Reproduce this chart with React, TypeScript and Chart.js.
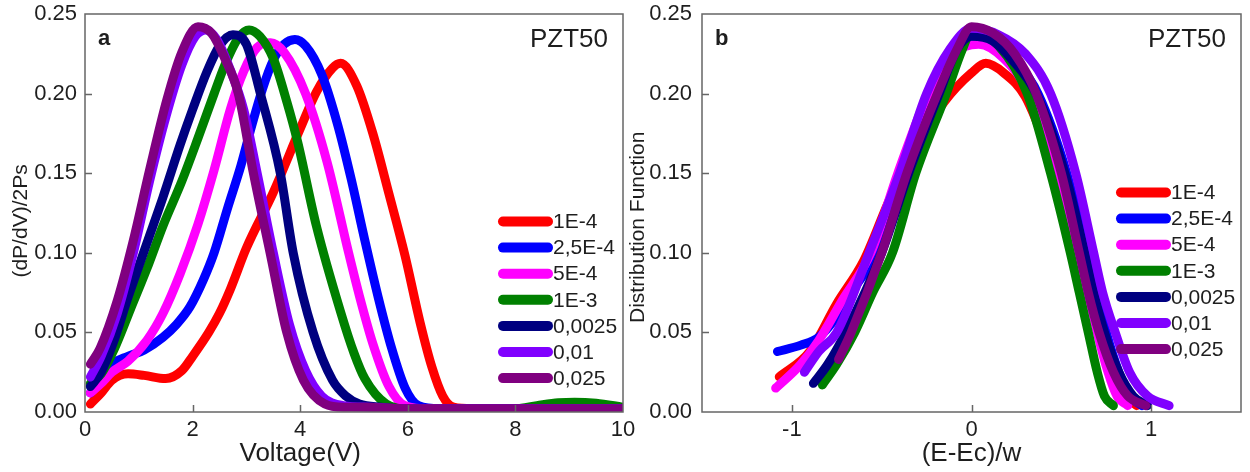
import { useEffect, useRef } from "react";
import { Chart, registerables } from "chart.js";

Chart.register(...registerables);

const FONT = "'Liberation Sans', Arial, sans-serif";
const TEXT = "#1e1e1e";
const AXIS = "#666666";

const seriesLabels = ["1E-4", "2,5E-4", "5E-4", "1E-3", "0,0025", "0,01", "0,025"];
const seriesColors = ["#ff0000", "#0000ff", "#ff00ff", "#008000", "#000080", "#8000ff", "#800080"];

// ---------- Panel a : (dP/dV)/2Ps vs Voltage ----------
const aXTicks = [0, 2, 4, 6, 8, 10];
const aRedV = [0.1, 0.3, 0.5, 0.8, 1.1, 1.5, 1.8, 2.0, 2.3, 2.5, 2.7, 3.0, 3.5, 4.0, 4.3, 4.6, 4.75, 5.05, 5.35, 5.65, 5.95, 6.23, 6.45, 6.65, 6.85, 7.2, 10];
const aRedY = [0.005, 0.012, 0.02, 0.024, 0.023, 0.021, 0.026, 0.035, 0.05, 0.062, 0.077, 0.103, 0.138, 0.178, 0.201, 0.216, 0.219, 0.205, 0.175, 0.137, 0.098, 0.056, 0.028, 0.01, 0.003, 0.002, 0.002];

const aBlueV = [0.1, 0.3, 0.5, 0.8, 1.1, 1.45, 1.7, 1.95, 2.2, 2.4, 2.65, 2.9, 3.1, 3.3, 3.5, 3.7, 3.9, 4.1, 4.4, 4.7, 4.95, 5.2, 5.45, 5.7, 5.95, 6.2, 6.6, 10];
const aBlueY = [0.012, 0.022, 0.03, 0.035, 0.039, 0.047, 0.055, 0.066, 0.083, 0.1, 0.128, 0.155, 0.18, 0.203, 0.221, 0.231, 0.234, 0.23, 0.212, 0.18, 0.146, 0.108, 0.072, 0.04, 0.015, 0.004, 0.002, 0.002];

const aMagV = [0.1, 0.3, 0.5, 0.8, 1.15, 1.45, 1.77, 2.1, 2.4, 2.7, 2.95, 3.2, 3.45, 3.7, 4.1, 4.5, 4.9, 5.1, 5.35, 5.65, 5.95, 6.4, 10];
const aMagY = [0.012, 0.018, 0.025, 0.032, 0.045, 0.062, 0.087, 0.118, 0.152, 0.19, 0.214, 0.229, 0.232, 0.226, 0.2, 0.157, 0.1, 0.073, 0.043, 0.016, 0.004, 0.002, 0.002];

const aGreenV = [0.1, 0.3, 0.55, 0.85, 1.15, 1.45, 1.8, 2.1, 2.4, 2.6, 2.85, 3.05, 3.25, 3.5, 3.75, 3.95, 4.3, 4.75, 5.0, 5.2, 5.6, 6.0, 8.0, 8.4, 8.8, 9.1, 9.5, 10];
const aGreenY = [0.018, 0.024, 0.04, 0.065, 0.09, 0.117, 0.145, 0.172, 0.2, 0.218, 0.235, 0.24, 0.236, 0.222, 0.195, 0.17, 0.117, 0.063, 0.037, 0.021, 0.005, 0.002, 0.002, 0.004, 0.0058, 0.0062, 0.0055, 0.003];

const aNavyV = [0.1, 0.3, 0.52, 0.8, 1.15, 1.45, 1.77, 2.0, 2.27, 2.5, 2.75, 3.0, 3.26, 3.63, 3.87, 4.24, 4.6, 4.85, 5.1, 5.5, 6, 10];
const aNavyY = [0.016, 0.025, 0.043, 0.072, 0.106, 0.135, 0.168, 0.19, 0.214, 0.23, 0.237, 0.231, 0.2, 0.15, 0.1, 0.05, 0.02, 0.01, 0.005, 0.003, 0.002, 0.002];

const aVioletV = [0.1, 0.3, 0.6, 0.9, 1.2, 1.5, 1.8, 2.05, 2.25, 2.45, 2.7, 2.95, 3.2, 3.5, 3.8, 4.1, 4.4, 4.8, 5.3, 6, 10];
const aVioletY = [0.022, 0.035, 0.062, 0.1, 0.145, 0.185, 0.218, 0.236, 0.24, 0.234, 0.215, 0.19, 0.15, 0.1, 0.055, 0.026, 0.01, 0.004, 0.003, 0.002, 0.002];

const aPurpleV = [0.1, 0.28, 0.6, 0.9, 1.2, 1.52, 1.8, 2.1, 2.35, 2.6, 2.85, 3.13, 3.44, 3.75, 4.06, 4.46, 4.8, 5.2, 6, 10];
const aPurpleY = [0.03, 0.04, 0.07, 0.108, 0.152, 0.196, 0.226, 0.242, 0.238, 0.222, 0.2, 0.15, 0.1, 0.05, 0.02, 0.005, 0.003, 0.003, 0.002, 0.002];

// ---------- Panel b : Distribution Function vs (E-Ec)/w ----------
const bXTicks = [-1, 0, 1];
const bRedX = [-1.07, -0.9, -0.75, -0.6, -0.45, -0.3, -0.15, 0, 0.08, 0.18, 0.3, 0.47, 0.62, 0.74, 0.8, 0.86, 0.92];
const bRedY = [0.022, 0.038, 0.068, 0.095, 0.135, 0.168, 0.195, 0.213, 0.219, 0.213, 0.198, 0.15, 0.1, 0.05, 0.025, 0.01, 0.004];

const bBlueX = [-1.08, -0.95, -0.85, -0.75, -0.65, -0.53, -0.38, -0.22, -0.1, 0, 0.12, 0.25, 0.37, 0.53, 0.64, 0.75, 0.82, 0.88, 0.95];
const bBlueY = [0.038, 0.042, 0.047, 0.06, 0.078, 0.1, 0.15, 0.2, 0.225, 0.235, 0.232, 0.22, 0.2, 0.15, 0.1, 0.05, 0.025, 0.01, 0.004];

const bMagX = [-1.09, -0.95, -0.85, -0.72, -0.56, -0.41, -0.24, -0.1, 0.04, 0.18, 0.32, 0.47, 0.6, 0.7, 0.76, 0.81, 0.87];
const bMagY = [0.015, 0.03, 0.045, 0.07, 0.1, 0.15, 0.2, 0.225, 0.231, 0.222, 0.2, 0.15, 0.1, 0.05, 0.025, 0.01, 0.004];

const bGreenX = [-0.83, -0.75, -0.65, -0.55, -0.44, -0.31, -0.14, -0.05, 0.0, 0.15, 0.31, 0.44, 0.55, 0.6, 0.65, 0.7, 0.74, 0.79];
const bGreenY = [0.017, 0.03, 0.05, 0.075, 0.1, 0.15, 0.2, 0.228, 0.239, 0.23, 0.2, 0.15, 0.1, 0.075, 0.05, 0.025, 0.01, 0.004];

const bNavyX = [-0.88, -0.8, -0.7, -0.5, -0.35, -0.18, -0.08, 0, 0.12, 0.22, 0.36, 0.52, 0.63, 0.68, 0.74, 0.82, 0.9, 0.98];
const bNavyY = [0.018, 0.03, 0.05, 0.1, 0.15, 0.2, 0.228, 0.236, 0.233, 0.222, 0.2, 0.15, 0.1, 0.075, 0.05, 0.025, 0.01, 0.004];

const bVioletX = [-0.93, -0.85, -0.75, -0.57, -0.4, -0.25, -0.12, 0, 0.15, 0.3, 0.44, 0.58, 0.68, 0.73, 0.8, 0.88, 0.98, 1.1];
const bVioletY = [0.025, 0.038, 0.05, 0.1, 0.15, 0.2, 0.228, 0.241, 0.237, 0.225, 0.2, 0.15, 0.1, 0.075, 0.05, 0.025, 0.01, 0.004];

const bPurpleX = [-0.74, -0.67, -0.5, -0.36, -0.19, -0.08, 0, 0.12, 0.24, 0.36, 0.5, 0.6, 0.65, 0.71, 0.79, 0.87, 0.97];
const bPurpleY = [0.033, 0.05, 0.1, 0.15, 0.2, 0.228, 0.242, 0.238, 0.225, 0.2, 0.15, 0.1, 0.075, 0.05, 0.025, 0.01, 0.004];

const yTicks = [0, 0.05, 0.1, 0.15, 0.2, 0.25];

const panelA: [number[], number[]][] = [
  [aRedV, aRedY], [aBlueV, aBlueY], [aMagV, aMagY], [aGreenV, aGreenY],
  [aNavyV, aNavyY], [aVioletV, aVioletY], [aPurpleV, aPurpleY],
];
const panelB: [number[], number[]][] = [
  [bRedX, bRedY], [bBlueX, bBlueY], [bMagX, bMagY], [bGreenX, bGreenY],
  [bNavyX, bNavyY], [bVioletX, bVioletY], [bPurpleX, bPurpleY],
];

type Decor = {
  panel: string;
  tag: string;
  xTitle: string;
  xTitleAt: number;
  yTitle: string;
  yTitleAt: number;
  yTitleOffset: number;
  legendTop: number;
};

function decorPlugin(d: Decor) {
  return {
    id: "decor",
    afterDatasetsDraw(chart: any) {
      const { ctx, chartArea: ca, scales } = chart;
      ctx.save();
      // inward tick marks
      ctx.strokeStyle = AXIS;
      ctx.lineWidth = 1.5;
      ctx.lineCap = "butt";
      ctx.beginPath();
      scales.x.ticks.forEach((t: any) => {
        const px = Math.round(scales.x.getPixelForValue(t.value)) + 0.5;
        if (px > ca.left + 2 && px < ca.right - 2) {
          ctx.moveTo(px, ca.bottom);
          ctx.lineTo(px, ca.bottom - 7);
        }
      });
      scales.y.ticks.forEach((t: any) => {
        const py = Math.round(scales.y.getPixelForValue(t.value)) + 0.5;
        if (py > ca.top + 2 && py < ca.bottom - 2) {
          ctx.moveTo(ca.left, py);
          ctx.lineTo(ca.left + 7, py);
        }
      });
      ctx.stroke();
      // frame
      ctx.strokeRect(ca.left, ca.top, ca.right - ca.left, ca.bottom - ca.top);
      // legend
      chart.data.datasets.forEach((ds: any, i: number) => {
        const y = ca.top + d.legendTop + i * 26.1;
        ctx.beginPath();
        ctx.lineCap = "round";
        ctx.lineWidth = 10;
        ctx.strokeStyle = ds.borderColor;
        ctx.moveTo(ca.right - 120, y);
        ctx.lineTo(ca.right - 75, y);
        ctx.stroke();
        ctx.fillStyle = TEXT;
        ctx.font = `21px ${FONT}`;
        ctx.textAlign = "left";
        ctx.textBaseline = "middle";
        ctx.fillText(ds.label, ca.right - 70, y + 1);
      });
      // panel letter
      ctx.fillStyle = TEXT;
      ctx.textBaseline = "alphabetic";
      ctx.textAlign = "left";
      ctx.font = `bold 22px ${FONT}`;
      ctx.fillText(d.panel, ca.left + 13, ca.top + 31);
      // tag
      ctx.font = `26px ${FONT}`;
      ctx.textAlign = "right";
      ctx.fillText(d.tag, ca.right - 15, ca.top + 33);
      // x title
      ctx.textAlign = "center";
      ctx.font = `26px ${FONT}`;
      ctx.fillText(d.xTitle, scales.x.getPixelForValue(d.xTitleAt), ca.bottom + 49);
      // y title
      ctx.translate(ca.left - d.yTitleOffset, scales.y.getPixelForValue(d.yTitleAt));
      ctx.rotate(-Math.PI / 2);
      ctx.font = `21px ${FONT}`;
      ctx.textBaseline = "middle";
      ctx.fillText(d.yTitle, 0, 0);
      ctx.restore();
    },
  };
}

function buildConfig(
  panel: [number[], number[]][],
  xMin: number,
  xMax: number,
  xTicks: number[],
  yAxisWidth: number,
  padRight: number,
  yPad: number,
  decor: Decor
): any {
  const n = panel.length;
  return {
    type: "line",
    data: {
      datasets: panel.map(([xs, ys], i) => ({
        label: seriesLabels[i],
        data: xs.map((x, j) => ({ x, y: ys[j] })),
        borderColor: seriesColors[i],
        backgroundColor: seriesColors[i],
        borderWidth: 9,
        borderCapStyle: "round",
        borderJoinStyle: "round",
        pointRadius: 0,
        cubicInterpolationMode: "monotone",
        fill: false,
        order: n - i,
      })),
    },
    options: {
      responsive: false,
      animation: false,
      layout: { padding: { top: 14, right: padRight, bottom: 0, left: 0 } },
      plugins: { legend: { display: false }, tooltip: { enabled: false } },
      scales: {
        x: {
          type: "linear",
          min: xMin,
          max: xMax,
          afterFit: (s: any) => {
            s.height = 60;
            s.paddingLeft = 0;
            s.paddingRight = 0;
            s.paddingTop = 0;
            s.paddingBottom = 0;
          },
          afterBuildTicks: (s: any) => {
            s.ticks = xTicks.map((v) => ({ value: v }));
          },
          ticks: {
            color: TEXT,
            font: { size: 22, family: FONT },
            padding: 5,
            maxRotation: 0,
            autoSkip: false,
            callback: (v: number) => String(v),
          },
          grid: { display: false, drawTicks: false },
          border: { display: false },
        },
        y: {
          type: "linear",
          min: 0,
          max: 0.25,
          afterFit: (s: any) => {
            s.width = yAxisWidth;
            s.paddingLeft = 0;
            s.paddingRight = 0;
            s.paddingTop = 0;
            s.paddingBottom = 0;
          },
          afterBuildTicks: (s: any) => {
            s.ticks = yTicks.map((v) => ({ value: v }));
          },
          ticks: {
            color: TEXT,
            font: { size: 22, family: FONT },
            padding: yPad,
            autoSkip: false,
            callback: (v: number) => v.toFixed(2),
          },
          grid: { display: false, drawTicks: false },
          border: { display: false },
        },
      },
    },
    plugins: [decorPlugin(decor)],
  };
}

export default function App() {
  const refA = useRef<HTMLCanvasElement>(null);
  const refB = useRef<HTMLCanvasElement>(null);

  useEffect(() => {
    Chart.defaults.font.family = FONT;
    const a = new Chart(
      refA.current as HTMLCanvasElement,
      buildConfig(panelA, 0, 10, aXTicks, 85, 27, 8, {
        panel: "a",
        tag: "PZT50",
        xTitle: "Voltage(V)",
        xTitleAt: 4,
        yTitle: "(dP/dV)/2Ps",
        yTitleAt: 0.12,
        yTitleOffset: 63.5,
        legendTop: 207.5,
      })
    );
    const b = new Chart(
      refB.current as HTMLCanvasElement,
      buildConfig(panelB, -1.5, 1.5, bXTicks, 77, 9, 10, {
        panel: "b",
        tag: "PZT50",
        xTitle: "(E-Ec)/w",
        xTitleAt: 0,
        yTitle: "Distribution Function",
        yTitleAt: 0.116,
        yTitleOffset: 63.5,
        legendTop: 178.5,
      })
    );
    return () => {
      a.destroy();
      b.destroy();
    };
  }, []);

  return (
    <div style={{ position: "absolute", left: 0, top: 0, width: 1250, height: 472, background: "#ffffff" }}>
      <canvas ref={refA} width={650} height={472} style={{ position: "absolute", left: 0, top: 0 }} />
      <canvas ref={refB} width={625} height={472} style={{ position: "absolute", left: 625, top: 0 }} />
    </div>
  );
}
